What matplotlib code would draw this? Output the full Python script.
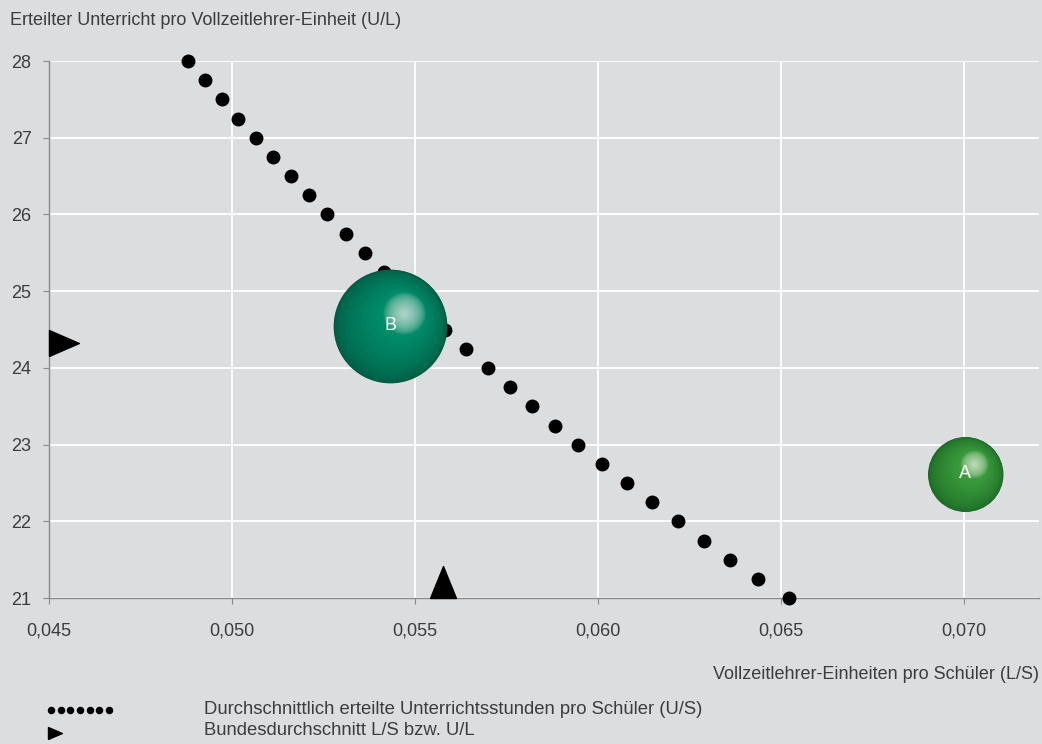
import numpy as np
import matplotlib.pyplot as plt
from matplotlib import transforms
from matplotlib.path import Path
from matplotlib.lines import Line2D
from matplotlib.colors import to_rgb

plt.rcParams['font.family'] = ['Liberation Sans', 'DejaVu Sans']

# dotted curve: average lessons per pupil (U/S)
curve_ls = [0.04880, 0.04926, 0.04973, 0.05016, 0.05066, 0.05112, 0.05161, 0.05210,
            0.05260, 0.05311, 0.05363, 0.05415, 0.05470, 0.05525, 0.05582, 0.05639,
            0.05699, 0.05759, 0.05820, 0.05882, 0.05945, 0.06011, 0.06079, 0.06147,
            0.06218, 0.06290, 0.06361, 0.06437, 0.06522]
curve_ul = [28.0, 27.75, 27.5, 27.25, 27.0, 26.75, 26.5, 26.25, 26.0, 25.75, 25.5,
            25.25, 25.0, 24.75, 24.5, 24.25, 24.0, 23.75, 23.5, 23.25, 23.0, 22.75,
            22.5, 22.25, 22.0, 21.75, 21.5, 21.25, 21.0]

# bubbles
bubble_names = ['A', 'B']
bubble_ls = [0.07004, 0.05432]
bubble_ul = [22.62, 24.55]
bubble_value = [1.0, 2.3]

# federal averages
avg_ls = 0.05576
avg_ul = 24.32

xticks = [0.045, 0.050, 0.055, 0.060, 0.065, 0.070]
yticks = [21, 22, 23, 24, 25, 26, 27, 28]

bg = '#dcdddf'
txt = '#3c3c3c'
fs = 13

fig = plt.figure(figsize=(10.42, 7.44), dpi=100, facecolor=bg)
ax = fig.add_axes([0.047, 0.196, 0.9501, 0.722])
ax.set_facecolor(bg)
ax.set_xlim(0.045, 0.07205)
ax.set_ylim(21, 28)

ax.set_xticks(xticks)
ax.set_xticklabels([('%.3f' % v).replace('.', ',') for v in xticks])
ax.set_yticks(yticks)
ax.set_yticklabels([str(v) for v in yticks])
ax.grid(True, color='white', linewidth=1.3, zorder=0)
ax.set_axisbelow(True)
for s in ['top', 'right']:
    ax.spines[s].set_visible(False)
for s in ['left', 'bottom']:
    ax.spines[s].set_color('#8a8a8a')
    ax.spines[s].set_linewidth(1.0)
ax.tick_params(axis='x', colors='#8a8a8a', length=4.5, pad=13, labelsize=fs, labelcolor=txt)
ax.tick_params(axis='y', colors='#8a8a8a', length=4.5, pad=8, labelsize=fs, labelcolor=txt)

# dotted hyperbola
ax.plot(curve_ls, curve_ul, linestyle='none', marker='o', markersize=9,
        color='black', zorder=3, clip_on=False)


def sphere(x, y, diam, dark, mid, light, hl_dx, hl_dy, label):
    dark, mid, light = np.array(to_rgb(dark)), np.array(to_rgb(mid)), np.array(to_rgb(light))
    n = 45
    for i in range(n):
        t = i / (n - 1)
        d = diam * (1 - 0.62 * t)
        c = dark + (mid - dark) * (t ** 0.6)
        off = transforms.ScaledTranslation(hl_dx * t * 0.8 / 72, hl_dy * t * 0.8 / 72,
                                           fig.dpi_scale_trans)
        ax.plot([x], [y], marker='o', markersize=d, markeredgewidth=0,
                color=c, transform=ax.transData + off, zorder=4, clip_on=False)
    hd = diam * 0.38
    off = transforms.ScaledTranslation(hl_dx / 72, hl_dy / 72, fig.dpi_scale_trans)
    for i in range(n):
        t = i / (n - 1)
        d = hd * (1 - 0.9 * t)
        c = mid + (light - mid) * (0.2 + 0.8 * t ** 0.6)
        ax.plot([x], [y], marker='o', markersize=d, markeredgewidth=0,
                color=c, alpha=0.2, transform=ax.transData + off, zorder=5, clip_on=False)
    ax.text(x, y, label, color='white', fontsize=fs, ha='center', va='center', zorder=6)


base_d = 54
sphere(bubble_ls[0], bubble_ul[0], base_d * np.sqrt(bubble_value[0]),
       '#1b6a24', '#3a9a3c', '#c0dfba', 6, 7, bubble_names[0])
sphere(bubble_ls[1], bubble_ul[1], base_d * np.sqrt(bubble_value[1]),
       '#005a42', '#008c6a', '#b4d8cb', 10, 9.5, bubble_names[1])

# triangle markers with their base on the axis
right_tri = Path([(0, -13), (0, 13), (30, 0), (0, -13)])
up_tri = Path([(-13, 0), (13, 0), (0, 32), (-13, 0)])
ax.plot([0.045], [avg_ul], marker=right_tri, markersize=43, color='black',
        linestyle='none', zorder=6, clip_on=False)
ax.plot([avg_ls], [21], marker=up_tri, markersize=46, color='black',
        linestyle='none', zorder=6, clip_on=False)

# titles
fig.text(0.0096, 0.973, 'Erteilter Unterricht pro Vollzeitlehrer-Einheit (U/L)',
         color=txt, fontsize=fs, ha='left', va='center')
fig.text(0.997, 0.093, 'Vollzeitlehrer-Einheiten pro Schüler (L/S)',
         color=txt, fontsize=fs, ha='right', va='center')

# legend
leg_y1 = 1 - 710 / 744
leg_y2 = 1 - 733 / 744
dot_x = np.linspace(51, 109, 7) / 1042
fig.add_artist(Line2D(dot_x, [leg_y1] * 7, transform=fig.transFigure, linestyle='none',
                      marker='o', markersize=4.4, color='black'))
leg_tri = Path([(0, -6), (0, 6), (14, 0), (0, -6)])
fig.add_artist(Line2D([48 / 1042], [leg_y2], transform=fig.transFigure, linestyle='none',
                      marker=leg_tri, markersize=20, color='black'))
fig.text(0.196, leg_y1, 'Durchschnittlich erteilte Unterrichtsstunden pro Schüler (U/S)',
         color=txt, fontsize=13.3, ha='left', va='center')
fig.text(0.196, leg_y2 + 0.003, 'Bundesdurchschnitt L/S bzw. U/L',
         color=txt, fontsize=13.3, ha='left', va='center')

fig.savefig('out.png', dpi=100, facecolor=bg)
